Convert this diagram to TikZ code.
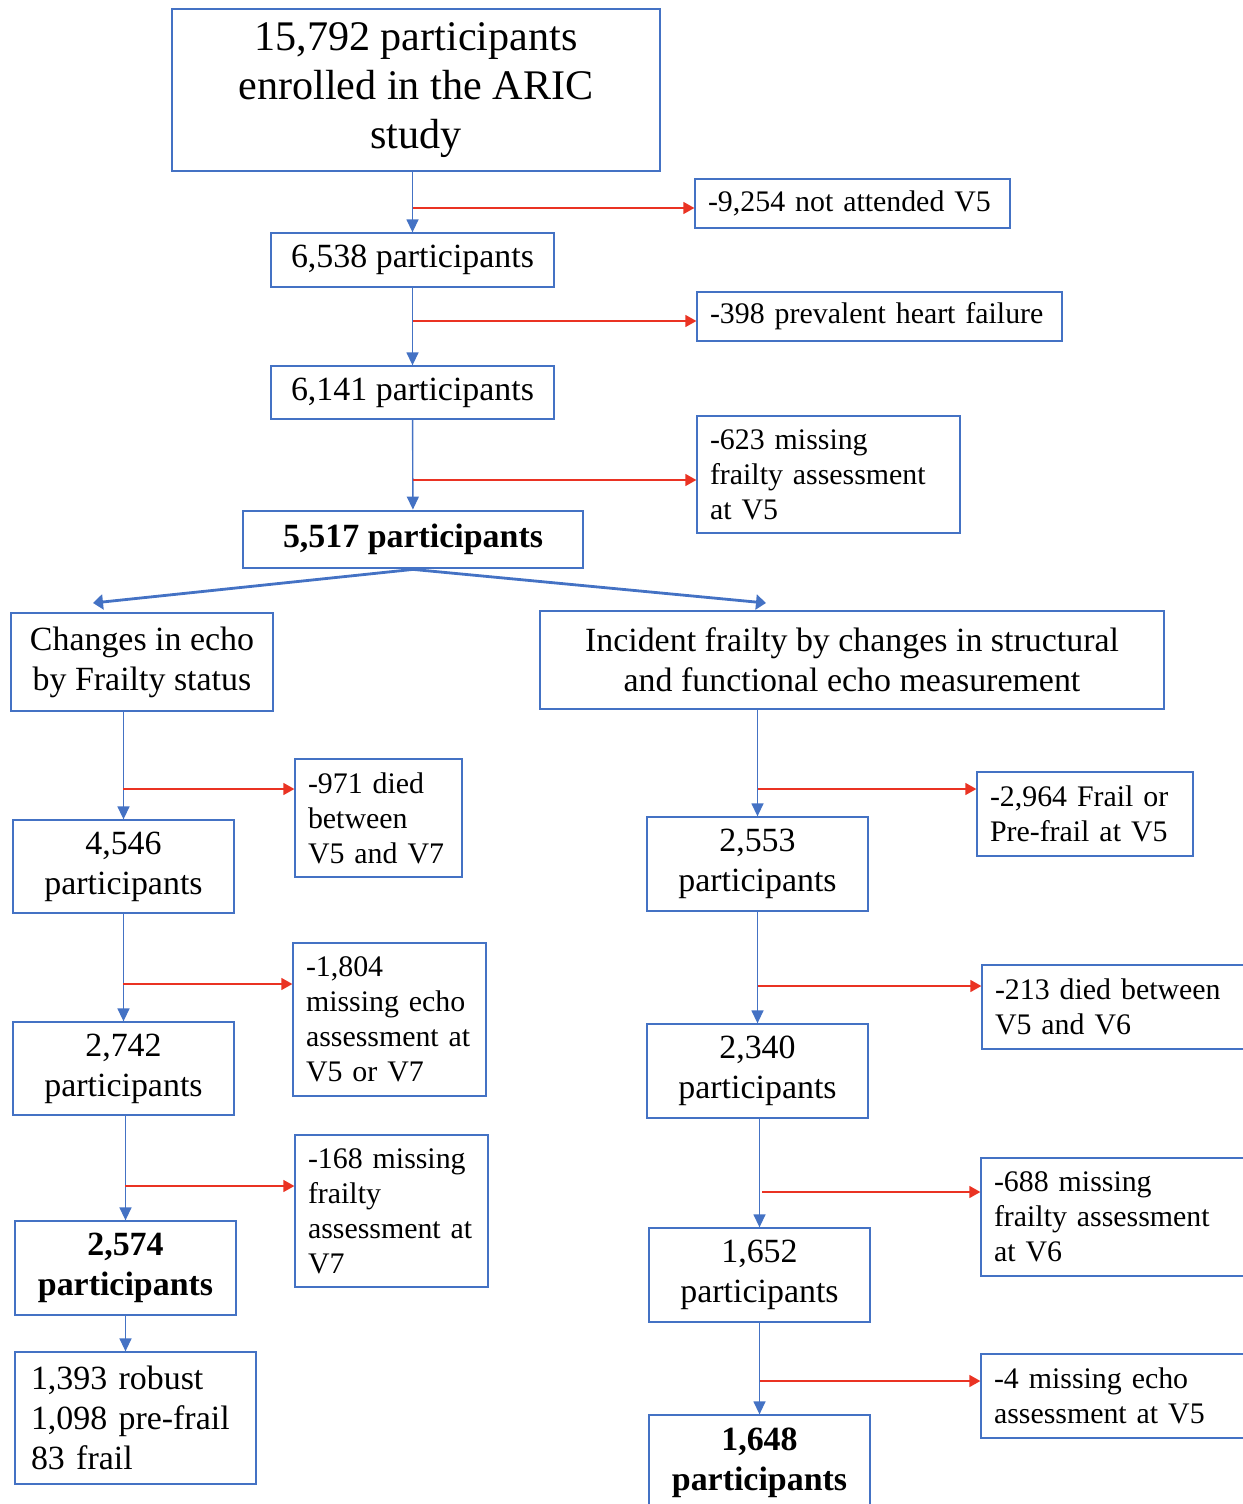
\documentclass[tikz,border=0pt]{standalone}
\usepackage{fontspec}
\setmainfont{Liberation Serif}
\usetikzlibrary{arrows.meta}
\definecolor{boxblue}{RGB}{68,114,196}
\definecolor{cutred}{RGB}{234,51,35}
\newcommand{\titlesize}{\fontsize{24}{28}\selectfont}
\newcommand{\countsize}{\fontsize{19.3}{22.7}\selectfont}
\newcommand{\cutsize}{\fontsize{17}{20}\selectfont}

\begin{document}
\begin{tikzpicture}[x=0.02cm, y=-0.02cm,
  countbox/.style={draw=boxblue, line width=0.75pt, font=\countsize, align=center, inner sep=0pt},
  thickbox/.style={countbox, line width=1.6pt},
  cutbox/.style={draw=boxblue, line width=0.75pt, font=\cutsize, align=left, inner xsep=0.26cm, inner ysep=0pt},
  flow/.style={draw=boxblue, line width=0.8pt, -{Triangle[width=0.24cm,length=0.26cm]}},
  cut/.style={draw=cutred, line width=0.8pt, -{Triangle[width=0.24cm,length=0.22cm]}},
  split/.style={draw=boxblue, line width=1.6pt, -{Triangle[width=0.3cm,length=0.2cm]}}]
  \useasboundingbox (0,0) rectangle (1243,1504);
  \clip (0,0) rectangle (1243,1504);

  % Enrolment and first exclusions
  \node[countbox, font=\titlesize, minimum width=9.76cm, minimum height=3.24cm] (top) at (416,90)
    {15,792 participants\\enrolled in the ARIC\\study};
  \node[cutbox, text width=5.78cm, minimum height=0.98cm] (ex1) at (852.5,203.5) {-9,254 not attended V5};
  \node[countbox, minimum width=5.66cm, minimum height=1.08cm] (n2) at (412.5,260) {6,538 participants};
  \node[cutbox, text width=6.78cm, minimum height=0.98cm] (ex2) at (879.5,316.5) {-398 prevalent heart failure};
  \node[countbox, minimum width=5.66cm, minimum height=1.06cm] (n3) at (412.5,392.5) {6,141 participants};
  \node[cutbox, text width=4.74cm, minimum height=2.34cm] (ex3) at (828.5,474.5)
    {-623 missing\\frailty assessment\\at V5};
  \node[thickbox, font=\countsize\bfseries, minimum width=6.80cm, minimum height=1.14cm] (n4) at (413,539.5)
    {5,517 participants};

  % Two analyses
  \node[thickbox, minimum width=5.24cm, minimum height=1.96cm] (hL) at (142,662)
    {Changes in echo\\by Frailty status};
  \node[thickbox, minimum width=12.48cm, minimum height=1.96cm] (hR) at (852,660)
    {Incident frailty by changes in structural\\and functional echo measurement};

  % Left column
  \node[cutbox, text width=2.82cm, minimum height=2.36cm] (exL1) at (378.5,818) {-971 died\\between\\V5 and V7};
  \node[countbox, minimum width=4.42cm, minimum height=1.86cm] (L1) at (123.5,866.5) {4,546\\participants};
  \node[cutbox, text width=3.34cm, minimum height=3.06cm] (exL2) at (389.5,1019.5)
    {-1,804\\missing echo\\assessment at\\V5 or V7};
  \node[countbox, minimum width=4.42cm, minimum height=1.86cm] (L2) at (123.5,1068.5) {2,742\\participants};
  \node[cutbox, text width=3.34cm, minimum height=3.04cm] (exL3) at (391.5,1211)
    {-168 missing\\frailty\\assessment at\\V7};
  \node[countbox, font=\countsize\bfseries, minimum width=4.42cm, minimum height=1.88cm] (L3) at (125.5,1268)
    {2,574\\participants};
  \node[countbox, align=left, inner xsep=0.32cm, text width=4.18cm, minimum height=2.64cm] (L4) at (135.5,1418)
    {1,393 robust\\1,098 pre-frail\\83 frail};

  % Right column
  \node[cutbox, text width=3.80cm, minimum height=1.68cm] (exR1) at (1085,814) {-2,964 Frail or\\Pre-frail at V5};
  \node[countbox, minimum width=4.42cm, minimum height=1.88cm] (R1) at (757.5,864) {2,553\\participants};
  \node[cutbox, text width=5.08cm, minimum height=1.68cm] (exR2) at (1122,1007) {-213 died between\\V5 and V6};
  \node[countbox, minimum width=4.42cm, minimum height=1.88cm] (R2) at (757.5,1071) {2,340\\participants};
  \node[cutbox, text width=5.08cm, minimum height=2.36cm] (exR3) at (1121,1217)
    {-688 missing\\frailty assessment\\at V6};
  \node[countbox, minimum width=4.42cm, minimum height=1.88cm] (R3) at (759.5,1275) {1,652\\participants};
  \node[cutbox, text width=5.08cm, minimum height=1.68cm] (exR4) at (1121,1396)
    {-4 missing echo\\assessment at V5};
  \node[countbox, font=\countsize\bfseries, minimum width=4.42cm, minimum height=1.90cm] (R4) at (759.5,1462.5)
    {1,648\\participants};

  % Branch points on the main lines
  \coordinate (b1) at (413,208);
  \coordinate (b2) at (413,321);
  \coordinate (b3) at (413,480);
  \coordinate (bL1) at (123,789);
  \coordinate (bL2) at (123,984);
  \coordinate (bL3) at (125,1186);
  \coordinate (bR1) at (758,789);
  \coordinate (bR2) at (758,986);
  \coordinate (bR3) at (762,1192);
  \coordinate (bR4) at (760,1381);
  \coordinate (tipL) at (93,603);
  \coordinate (tipR) at (766,603);

  % Main flow
  \draw[flow] (top.south -| n2) -- (n2.north);
  \draw[flow] (n2) -- (n3);
  \draw[flow] (n3) -- (n4);
  \draw[split] (n4.south) -- (tipL);
  \draw[split] (n4.south) -- (tipR);
  \draw[flow] (hL.south -| L1) -- (L1.north);
  \draw[flow] (L1) -- (L2);
  \draw[flow] (L2.south -| L3) -- (L3.north);
  \draw[flow] (L3.south) -- (L3.south |- L4.north);
  \draw[flow] (hR.south -| R1) -- (R1.north);
  \draw[flow] (R1) -- (R2);
  \draw[flow] (R2.south -| R3) -- (R3.north);
  \draw[flow] (R3) -- (R4);

  % Exclusions
  \draw[cut] (b1) -- (b1 -| ex1.west);
  \draw[cut] (b2) -- (b2 -| ex2.west);
  \draw[cut] (b3) -- (b3 -| ex3.west);
  \draw[cut] (bL1) -- (bL1 -| exL1.west);
  \draw[cut] (bL2) -- (bL2 -| exL2.west);
  \draw[cut] (bL3) -- (bL3 -| exL3.west);
  \draw[cut] (bR1) -- (bR1 -| exR1.west);
  \draw[cut] (bR2) -- (bR2 -| exR2.west);
  \draw[cut] (bR3) -- (bR3 -| exR3.west);
  \draw[cut] (bR4) -- (bR4 -| exR4.west);
\end{tikzpicture}
\end{document}
